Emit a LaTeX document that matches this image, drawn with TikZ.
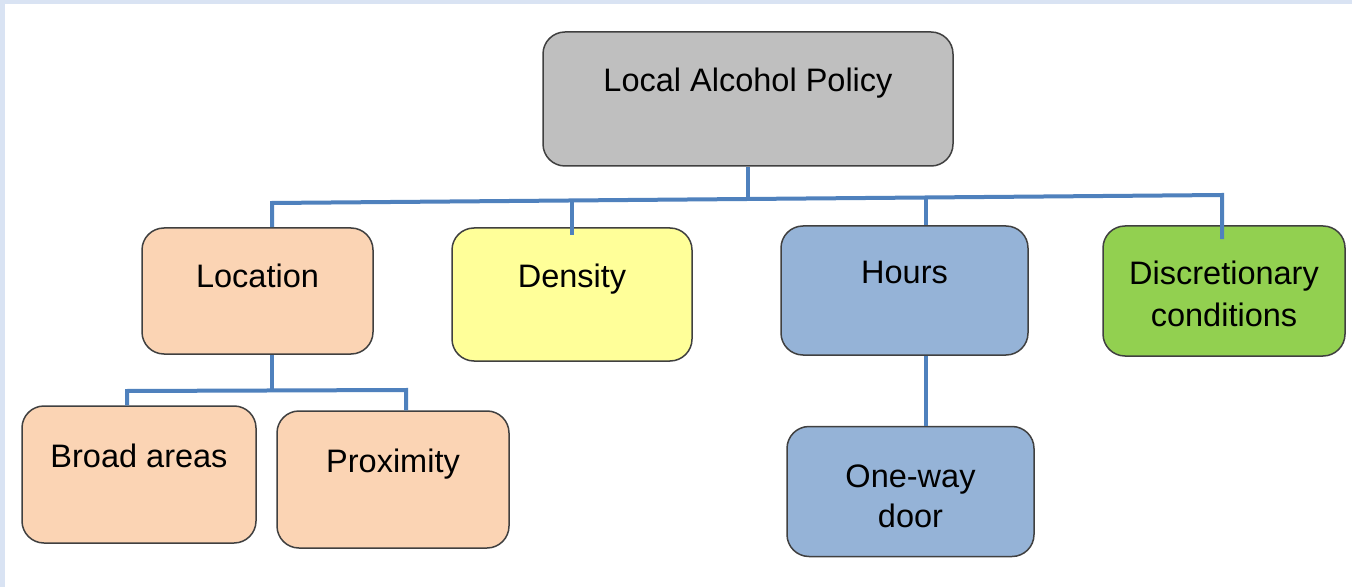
\documentclass[tikz,border=0pt]{standalone}
\usepackage{fontspec}
\setmainfont{Liberation Sans}
\usepackage{xcolor}
\usetikzlibrary{positioning}
\definecolor{rootgray}{HTML}{BFBFBF}
\definecolor{peach}{HTML}{FBD4B4}
\definecolor{lemon}{HTML}{FFFF99}
\definecolor{steel}{HTML}{95B3D7}
\definecolor{leaf}{HTML}{92D050}
\definecolor{wire}{HTML}{4F81BD}
\definecolor{framebg}{HTML}{D9E3F3}
\begin{document}
\begin{tikzpicture}[x=0.5pt,y=-0.5pt,node distance=35pt,every node/.append style={align=center,font=\fontsize{16.25}{20}\selectfont},box/.style={rectangle,rounded corners=11pt,draw=black!75,line width=0.75pt,inner sep=2pt},
  oneline/.style={text height=12pt,text depth=19pt},link/.style={draw=wire,line width=2pt}]
    \fill[framebg] (0,0) rectangle (1352,587);
    \fill[white] (5,4) rectangle (1352,587);
    \useasboundingbox (0,0) rectangle (1352,587);
    \node [box, oneline, fill=rootgray, minimum width=205pt, minimum height=67pt] (policy) at (748,99) {Local Alcohol Policy};
    \node [box, oneline, fill=peach, minimum width=115.5pt, minimum height=63pt, text depth=15pt] (location) at (257.5,291) {Location};
    \node [box, oneline, fill=lemon, minimum width=120pt, minimum height=66.5pt] (density) at (572,294.5) {Density};
    \node [box, oneline, fill=steel, minimum width=123.5pt, minimum height=64.5pt] (hours) at (904.5,290.5) {Hours};
    \node [box, fill=leaf, minimum width=121pt, minimum height=65pt, font=\fontsize{16.25}{21}\selectfont, text height=35.5pt] (discretion) at (1224,291) {Discretionary\\conditions};
    \node [box, oneline, fill=peach, minimum width=117pt, minimum height=68.5pt] (broad) at (139,474.5) {Broad areas};
    \node [box, oneline, fill=peach, minimum width=116pt, minimum height=68.5pt] (proximity) at (393,479.5) {Proximity};
    \node [box, fill=steel, minimum width=123.5pt, minimum height=65pt, text height=36.5pt, below=of hours, xshift=3pt] (door) {One-way\\door};
    \coordinate (busL) at (272,203);
    \coordinate (busM) at (748,200);
    \coordinate (busH) at (926,196.5);
    \coordinate (busR) at (1222,195);
    \coordinate (subM) at (272,390);
    \coordinate (subL) at (127,391);
    \coordinate (subR) at (406,390);
    \draw[link] (location.north -| busL) -- (busL) -- (busR) -- ([yshift=-7pt]discretion.north -| busR);
    \draw[link] (policy.south) -- (busM);
    \draw[link] (density.north |- busM) -- ([yshift=-4pt]density.north);
    \draw[link] (busH) -- (hours.north -| busH);
    \draw[link] (hours.south -| busH) -- (door.north -| busH);
    \draw[link] (location.south -| subM) -- (subM);
    \draw[link] (broad.north -| subL) -- (subL) -- (subR) -- (proximity.north -| subR);
\end{tikzpicture}
\end{document}
